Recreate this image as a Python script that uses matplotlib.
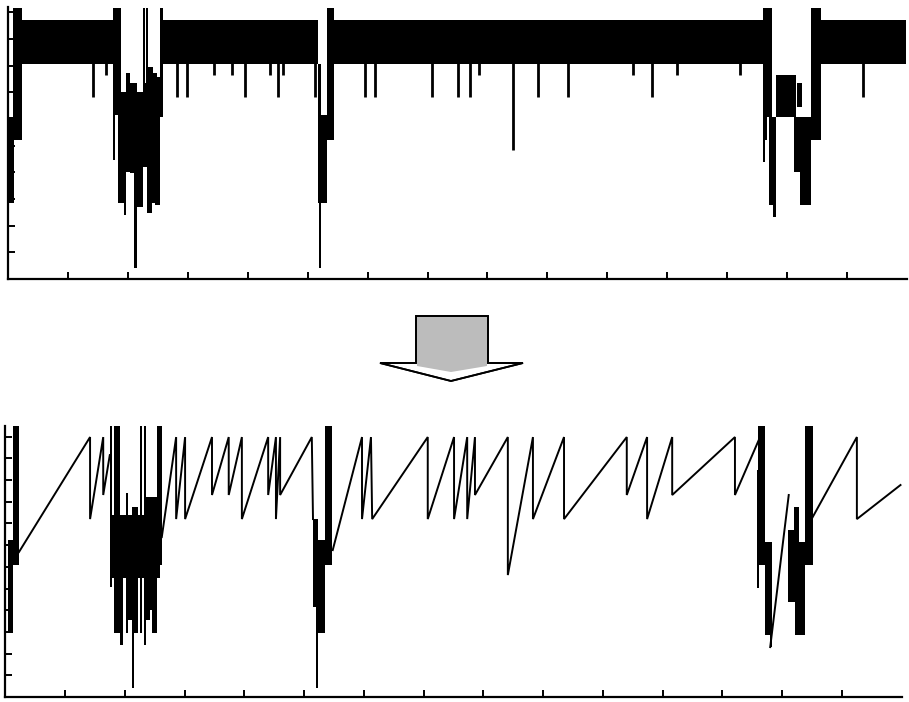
import numpy as np
import matplotlib
matplotlib.use('Agg')
import matplotlib.pyplot as plt
from matplotlib.patches import Polygon

nan = np.nan

# ---- upper trace: fast switching band, narrow dips and bursts ----
band_x0 = [0.23, 2.59, 5.44, 13.56]
band_x1 = [1.75, 5.18, 12.60, 14.99]
band_lo = 8.05
band_hi = 9.70

dip_x = [1.42, 1.64, 2.82, 2.99, 3.44, 3.74, 3.96, 4.37, 4.51, 4.59, 5.13,
         5.96, 6.13, 7.08, 7.50, 7.71, 7.86, 8.43, 8.85, 9.35, 10.42, 10.75,
         11.17, 12.22, 14.26]
dip_y = [6.82, 7.64, 6.82, 6.82, 7.64, 7.64, 6.82, 7.64, 6.82, 7.64, 6.82,
         6.82, 6.82, 6.82, 6.82, 6.82, 7.64, 4.83, 6.82, 6.82, 7.64, 6.82,
         7.64, 7.64, 6.82]

top_burst_x0 = [0.02, 0.08, 1.75, 1.77, 1.84, 1.94, 1.97, 2.04, 2.10, 2.15,
                1.89, 1.84, 2.25, 2.25, 2.31, 2.32, 2.34, 2.40, 2.45, 2.54,
                5.18, 5.19, 5.23, 5.33,
                12.60, 12.60, 12.67, 12.69, 12.77, 12.82, 13.11, 13.17, 13.22, 13.39]
top_burst_x1 = [0.10, 0.23, 1.79, 1.89, 1.97, 1.97, 2.04, 2.15, 2.15, 2.25,
                2.54, 2.54, 2.34, 2.28, 2.34, 2.40, 2.42, 2.49, 2.54, 2.59,
                5.23, 5.23, 5.33, 5.44,
                12.67, 12.63, 12.75, 12.80, 12.82, 13.14, 13.22, 13.25, 13.39, 13.56]
top_burst_lo = [2.85, 5.21, 4.46, 6.14, 2.85, 2.40, 4.01, 3.97, 0.41, 2.70,
                4.83, 4.20, 5.21, 7.34, 7.34, 2.47, 4.83, 2.85, 2.77, 6.07,
                2.85, 0.41, 2.85, 5.21,
                5.21, 4.38, 6.07, 2.77, 2.32, 6.07, 4.01, 6.44, 2.77, 5.21]
top_burst_hi = [6.07, 10.15, 10.15, 10.15, 6.14, 6.14, 7.72, 7.34, 6.70, 6.44,
                6.70, 7.00, 7.34, 10.15, 10.15, 5.21, 7.94, 7.72, 7.57, 10.15,
                8.05, 8.05, 6.14, 10.15,
                10.15, 10.15, 10.15, 6.07, 6.07, 7.64, 6.07, 7.34, 6.07, 10.15]

# ---- lower trace: sawtooth after processing (nan = break) ----
saw_x = [0.23, 1.42, 1.42, 1.64, 1.64, 1.75, nan,
         2.62, 2.86, 2.86, 3.01, 3.01, 3.46, 3.46, 3.74, 3.74, 3.96, 3.96,
         4.40, 4.40, 4.53, 4.53, 4.60, 4.60, 5.13, 5.15, nan,
         5.48, 5.97, 5.97, 6.12, 6.14, 7.07, 7.07, 7.51, 7.51, 7.73, 7.73,
         7.86, 7.86, 8.41, 8.41, 8.83, 8.83, 9.35, 9.35, 10.40, 10.40, 10.74,
         10.74, 11.16, 11.16, 12.21, 12.21, 12.63, nan,
         12.80, 13.11, nan,
         13.51, 14.25, 14.25, 14.98]
saw_y = [6.68, 11.98, 8.20, 11.98, 9.31, 11.15, nan,
         7.37, 11.98, 8.20, 11.98, 8.20, 11.98, 9.31, 11.98, 9.31, 11.98, 8.20,
         11.98, 9.31, 11.98, 8.20, 11.98, 9.31, 11.98, 8.20, nan,
         6.77, 11.98, 8.20, 11.98, 8.20, 11.98, 8.20, 11.98, 8.20, 11.98, 8.20,
         11.98, 9.31, 11.98, 5.62, 11.98, 8.20, 11.98, 8.20, 11.98, 9.31, 11.98,
         8.20, 11.98, 9.31, 11.98, 9.31, 11.98, nan,
         2.30, 9.31, nan,
         8.29, 11.98, 8.20, 9.77]

low_burst_x0 = [0.05, 0.13,
                1.75, 1.75, 1.79, 1.82, 1.92, 2.02, 2.05, 2.12, 2.15, 2.26, 2.32,
                2.36, 2.42, 2.46, 2.54,
                5.15, 5.15, 5.20, 5.23, 5.35,
                12.58, 12.60, 12.71, 12.80, 13.10, 13.20, 13.21, 13.38]
low_burst_x1 = [0.13, 0.23,
                1.79, 2.62, 2.59, 1.92, 1.97, 2.05, 2.12, 2.15, 2.22, 2.29, 2.36,
                2.42, 2.46, 2.54, 2.62,
                5.23, 5.47, 5.23, 5.35, 5.47,
                12.61, 12.71, 12.83, 12.83, 13.21, 13.28, 13.38, 13.51]
low_burst_lo = [2.95, 6.08,
                5.07, 6.08, 5.50, 2.95, 2.40, 2.95, 3.55, 0.41, 2.95, 2.95, 2.40,
                3.55, 4.01, 2.95, 6.08,
                4.15, 6.08, 0.41, 2.95, 6.08,
                5.02, 6.08, 2.86, 2.30, 4.38, 6.08, 2.86, 6.08]
low_burst_hi = [7.24, 12.49,
                12.49, 7.24, 8.40, 12.49, 7.24, 9.40, 8.29, 8.76, 8.76, 12.49, 12.49,
                9.22, 9.22, 9.22, 12.49,
                8.20, 7.24, 8.20, 7.24, 12.49,
                10.46, 12.49, 7.14, 4.47, 7.70, 8.76, 7.14, 12.49]

W, H = 909, 702
fig = plt.figure(figsize=(W / 100, H / 100), dpi=100)

def px_axes(left, top, right, bottom):
    return fig.add_axes([left / W, 1 - bottom / H, (right - left) / W, (bottom - top) / H])

def style(ax, ymax, nyt):
    ax.set_xlim(0, 15)
    ax.set_ylim(0, ymax)
    for s in ('top', 'right'):
        ax.spines[s].set_visible(False)
    for s in ('left', 'bottom'):
        ax.spines[s].set_linewidth(1.6)
    ax.set_xticks(np.arange(1, 15))
    ax.set_yticks(np.arange(1, nyt + 1))
    ax.tick_params(direction='in', length=5, width=1.4, labelbottom=False, labelleft=False)

def bars(ax, x0, x1, lo, hi):
    x0, x1, lo, hi = map(np.asarray, (x0, x1, lo, hi))
    ax.bar(x0, hi - lo, width=x1 - x0, bottom=lo, align='edge',
           color='black', linewidth=0)

# upper panel
ax1 = px_axes(8, 7, 907, 279)
style(ax1, 10.2, 10)
bars(ax1, band_x0, band_x1, [band_lo] * len(band_x0), [band_hi] * len(band_x0))
ax1.vlines(dip_x, dip_y, band_lo + 0.05, color='black', linewidth=2.0)
bars(ax1, top_burst_x0, top_burst_x1, top_burst_lo, top_burst_hi)

# lower panel
ax2 = px_axes(5.2, 426, 901.7, 697)
style(ax2, 12.49, 12)
ax2.plot(saw_x, saw_y, color='black', linewidth=1.4, solid_joinstyle='miter')
bars(ax2, low_burst_x0, low_burst_x1, low_burst_lo, low_burst_hi)

# block arrow between the panels
def fpt(x, y):
    return (x / W, 1 - y / H)

arrow = [fpt(416, 316), fpt(488, 316), fpt(488, 363), fpt(523, 363),
         fpt(451, 381), fpt(380, 363), fpt(416, 363)]
fig.patches.append(Polygon(arrow, closed=True, facecolor='white', edgecolor='black',
                           linewidth=1.3, transform=fig.transFigure))
shaft = [fpt(417, 317), fpt(487, 317), fpt(487, 366), fpt(451, 372), fpt(417, 366)]
fig.patches.append(Polygon(shaft, closed=True, facecolor='#bcbcbc', edgecolor='none',
                           transform=fig.transFigure))
fig.patches.append(Polygon(arrow, closed=True, facecolor='none', edgecolor='black',
                           linewidth=1.3, transform=fig.transFigure))

fig.savefig('out.png', dpi=100)
